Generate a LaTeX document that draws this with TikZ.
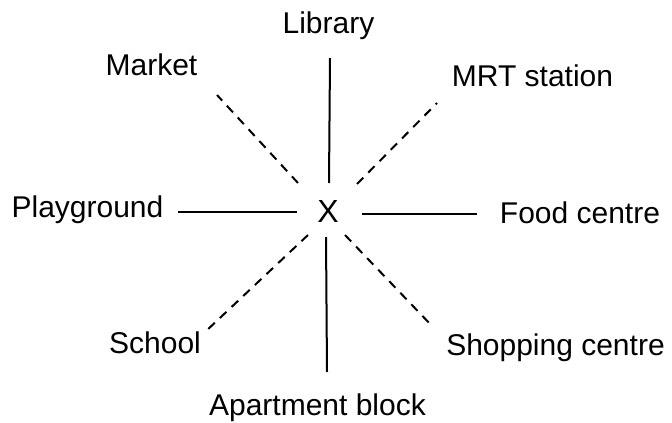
\documentclass[tikz,border=0pt]{standalone}
\usepackage{fontspec}
\setmainfont{Liberation Sans}
\begin{document}
\begin{tikzpicture}[x=1pt, y=-1pt,
     font=\fontsize{30}{36}\selectfont,
     text=black,
     place/.style={anchor=base, inner sep=0pt},
     solidray/.style={line width=2pt},
     dashray/.style={line width=2pt, dash pattern=on 9pt off 7pt}]
\useasboundingbox (0,0) rectangle (672,423);
% the places
\node[place, font=\fontsize{32}{38}\selectfont] (x) at (328,222) {X};
\node[place] (library) at (328.5,33) {Library};
\node[place] (market) at (151.5,75) {Market};
\node[place] (mrt) at (532.5,86) {MRT station};
\node[place] (playground) at (87.5,217) {Playground};
\node[place] (food) at (580,223) {Food centre};
\node[place] (school) at (155,353) {School};
\node[place] (shopping) at (555.5,355) {Shopping centre};
\node[place] (apartment) at (317.5,415) {Apartment block};
% ray ends
\coordinate (n1) at (329,183); \coordinate (n2) at (330,58);
\coordinate (s1) at (326,237); \coordinate (s2) at (327,372);
\coordinate (w1) at (297,212); \coordinate (w2) at (178,212);
\coordinate (e1) at (362,214); \coordinate (e2) at (477,214);
\coordinate (nw1) at (298,183); \coordinate (nw2) at (217,95);
\coordinate (ne1) at (357,184); \coordinate (ne2) at (437,103);
\coordinate (sw1) at (308,235); \coordinate (sw2) at (205,332);
\coordinate (se1) at (345,235); \coordinate (se2) at (433,327);
\foreach \r in {n, s, w, e}
    \draw[solidray] (\r1) -- (\r2);
\foreach \r in {nw, ne, sw, se}
    \draw[dashray] (\r1) -- (\r2);
\end{tikzpicture}
\end{document}
